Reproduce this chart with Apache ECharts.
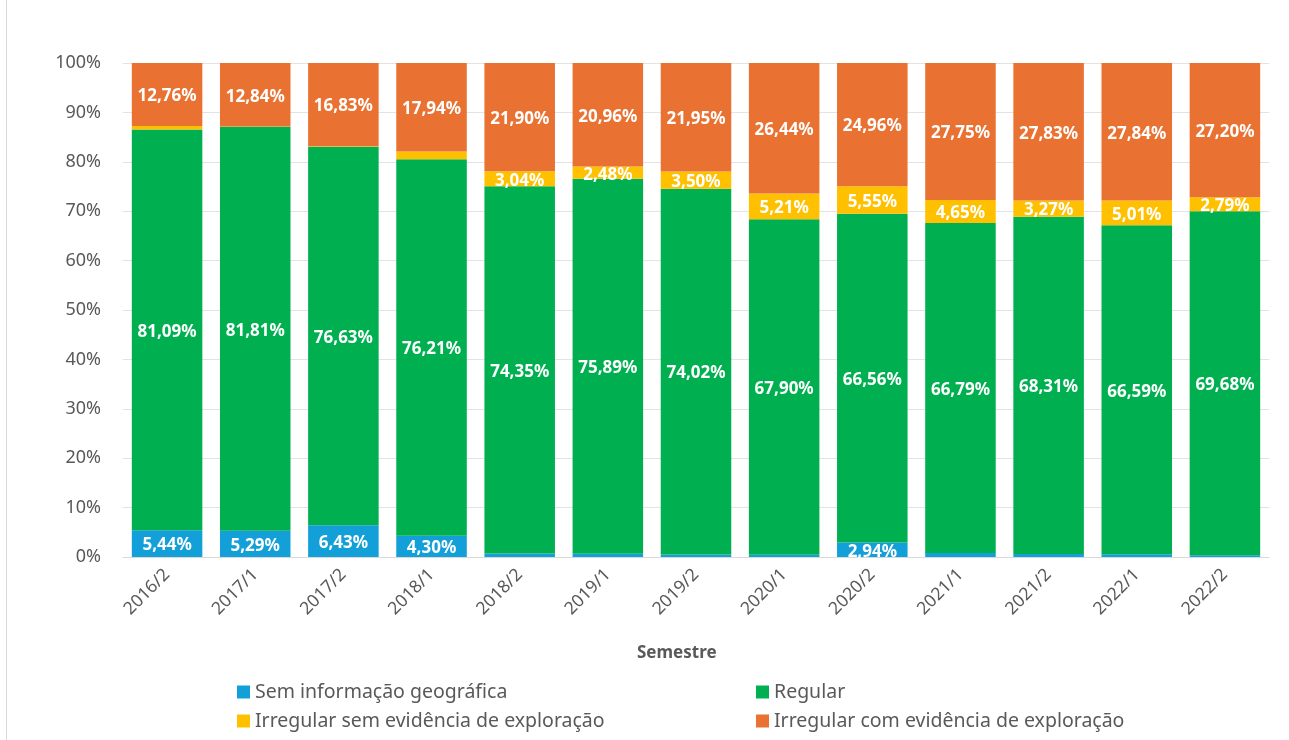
<!DOCTYPE html>
<html>
<head>
<meta charset="utf-8">
<script src="https://cdn.jsdelivr.net/npm/echarts@6/dist/echarts.min.js"></script>
<style>
  html, body { margin: 0; padding: 0; background: #ffffff; }
  #chart { width: 1289px; height: 740px; }
</style>
</head>
<body>
<div id="chart"></div>
<script>
// Semesters on the category axis
const semestres = ['2016/2', '2017/1', '2017/2', '2018/1', '2018/2', '2019/1', '2019/2',
  '2020/1', '2020/2', '2021/1', '2021/2', '2022/1', '2022/2'];

// Share of each class per semester (%)
const semInformacao = [5.44, 5.29, 6.43, 4.30, 0.71, 0.67, 0.53, 0.45, 2.94, 0.81, 0.59, 0.56, 0.33];
const regular = [81.09, 81.81, 76.63, 76.21, 74.35, 75.89, 74.02, 67.90, 66.56, 66.79, 68.31, 66.59, 69.68];
const irregularSem = [0.71, 0.06, 0.11, 1.55, 3.04, 2.48, 3.50, 5.21, 5.55, 4.65, 3.27, 5.01, 2.79];
const irregularCom = [12.76, 12.84, 16.83, 17.94, 21.90, 20.96, 21.95, 26.44, 24.96, 27.75, 27.83, 27.84, 27.20];

const yTicks = [0, 10, 20, 30, 40, 50, 60, 70, 80, 90, 100];

const FONT = '"Noto Sans", "Liberation Sans", sans-serif';
const GREY = '#595959';

function pct(v) {
  return v.toFixed(2).replace('.', ',') + '%';
}

function makeSeries(name, data, color) {
  return {
    name: name,
    type: 'bar',
    stack: 'total',
    barCategoryGap: '20%',
    data: data,
    itemStyle: { color: color },
    label: {
      show: true,
      position: 'inside',
      offset: [0, 2],
      color: '#ffffff',
      fontFamily: FONT,
      fontWeight: 'bold',
      fontSize: 17,
      formatter: p => (p.value >= 2 ? pct(p.value) : '')
    },
    emphasis: { disabled: true }
  };
}

const legendText = { color: GREY, fontFamily: FONT, fontSize: 19.5 };

const chart = echarts.init(document.getElementById('chart'));
chart.setOption({
  animation: false,
  backgroundColor: '#ffffff',
  textStyle: { fontFamily: FONT },
  grid: { left: 123, right: 20, top: 63, bottom: 183, containLabel: false },
  xAxis: {
    type: 'category',
    data: semestres,
    axisLine: { show: true, lineStyle: { color: '#d9d9d9', width: 1 } },
    axisTick: { show: false },
    axisLabel: {
      rotate: 45,
      color: GREY,
      fontFamily: FONT,
      fontSize: 17.5,
      margin: 15
    }
  },
  yAxis: {
    type: 'value',
    min: yTicks[0],
    max: yTicks[yTicks.length - 1],
    interval: 10,
    axisLine: { show: false },
    axisTick: { show: false },
    splitLine: { lineStyle: { color: '#e3e3e3', width: 1 } },
    axisLabel: {
      color: GREY,
      fontFamily: FONT,
      fontSize: 18,
      margin: 22,
      formatter: '{value}%'
    }
  },
  legend: [
    {
      orient: 'vertical',
      left: 232,
      top: 677,
      itemWidth: 13,
      itemHeight: 13,
      itemGap: 9,
      icon: 'rect',
      textStyle: legendText,
      data: ['Sem informação geográfica', 'Irregular sem evidência de exploração']
    },
    {
      orient: 'vertical',
      left: 751,
      top: 677,
      itemWidth: 13,
      itemHeight: 13,
      itemGap: 9,
      icon: 'rect',
      textStyle: legendText,
      data: ['Regular', 'Irregular com evidência de exploração']
    }
  ],
  graphic: [
    {
      type: 'text',
      left: 637,
      top: 645,
      style: { text: 'Semestre', fill: GREY, font: 'bold 17px ' + FONT }
    },
    {
      type: 'line',
      shape: { x1: 6.5, y1: 0, x2: 6.5, y2: 740 },
      style: { stroke: '#d9d9d9', lineWidth: 1 }
    }
  ],
  series: [
    makeSeries('Sem informação geográfica', semInformacao, '#139fd8'),
    makeSeries('Regular', regular, '#00b050'),
    makeSeries('Irregular sem evidência de exploração', irregularSem, '#ffc000'),
    makeSeries('Irregular com evidência de exploração', irregularCom, '#e97132')
  ]
});
</script>
</body>
</html>
